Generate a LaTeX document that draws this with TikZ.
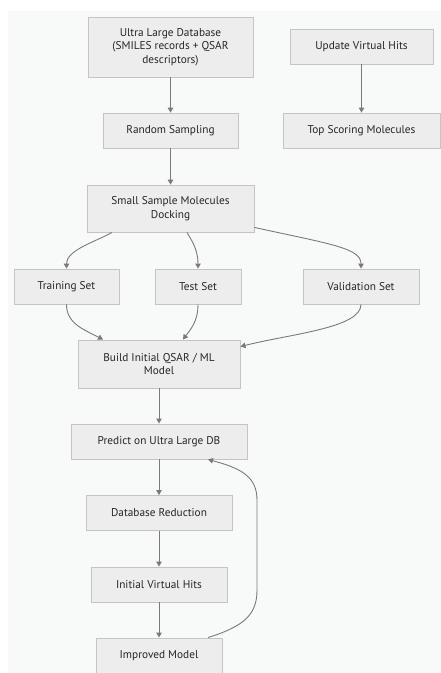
\documentclass[tikz,border=0pt]{standalone}
\usepackage{fontspec}
\setmainfont{PT Sans}
\usetikzlibrary{arrows.meta}
\definecolor{panelbg}{HTML}{F8F9F9}
\definecolor{boxfill}{HTML}{EDEDED}
\definecolor{boxline}{HTML}{C4C4C4}
\definecolor{edgecol}{HTML}{7A7A7A}
\definecolor{txtcol}{HTML}{262626}
\begin{document}
\begin{tikzpicture}[x=1pt,y=-1pt,
  box/.style={draw=boxline, fill=boxfill, line width=0.9pt, inner sep=0pt,
    text=txtcol, align=center, font=\fontsize{11.3}{13.5}\selectfont},
  flow/.style={draw=edgecol, line width=0.9pt, -{Triangle[length=5pt,width=5.5pt]}}]
\useasboundingbox (0,0) rectangle (441,673);
\fill[panelbg] (8,11) rectangle (441,673);
% nodes
\node[box, minimum width=165pt, minimum height=60pt] (ultra) at (170.5,47) {Ultra Large Database\\(SMILES records + QSAR\\descriptors)};
\node[box, minimum width=135pt, minimum height=35pt] (random) at (170.5,130.5) {Random Sampling};
\node[box, minimum width=167pt, minimum height=47pt] (small) at (170.5,208.5) {Small Sample Molecules\\Docking};
\node[box, minimum width=143pt, minimum height=35pt] (update) at (361.5,46.5) {Update Virtual Hits};
\node[box, minimum width=157pt, minimum height=35pt] (top) at (361.5,130.5) {Top Scoring Molecules};
\node[box, minimum width=105pt, minimum height=35pt] (train) at (66.5,286.5) {Training Set};
\node[box, minimum width=86pt, minimum height=35pt] (test) at (198,286.5) {Test Set};
\node[box, minimum width=116pt, minimum height=35pt] (valid) at (361,286.5) {Validation Set};
\node[box, minimum width=162pt, minimum height=48pt] (build) at (159,364) {Build Initial QSAR / ML\\Model};
\node[box, minimum width=176pt, minimum height=35pt] (predict) at (159,441.5) {Predict on Ultra Large DB};
\node[box, minimum width=146pt, minimum height=35pt] (dbred) at (159,513) {Database Reduction};
\node[box, minimum width=136pt, minimum height=35pt] (ivh) at (159,584.5) {Initial Virtual Hits};
\node[box, minimum width=126pt, minimum height=35pt] (improved) at (159,655.5) {Improved Model};
% straight edges
\draw[flow] (ultra) -- (random);
\draw[flow] (random) -- (small);
\draw[flow] (update) -- (top);
\draw[flow] (build) -- (predict);
\draw[flow] (predict) -- (dbred);
\draw[flow] (dbred) -- (ivh);
\draw[flow] (ivh) -- (improved);
% curved edges
\draw[flow] ([xshift=-58.5pt]small.south) .. controls (95,242) and (66.5,250) .. (train.north);
\draw[flow] ([xshift=16.5pt]small.south) .. controls (194,244) and (198,252) .. (test.north);
\draw[flow] ([yshift=5pt]small.south east) .. controls (330,244) and (361,248) .. (valid.north);
\draw[flow] (train.south) .. controls (66.5,324) and (85,330) .. ([xshift=-56pt]build.north);
\draw[flow] (test.south) .. controls (198,322) and (190,330) .. ([xshift=24pt]build.north);
\draw[flow] (valid.south) .. controls (361,328) and (290,334) .. ([yshift=-7pt]build.north east);
\draw[flow] ([xshift=49pt]improved.north) .. controls (245,626) and (257,614) .. (257,590)
  -- (257,500) .. controls (257,476) and (240,468) .. ([xshift=49pt]predict.south);
\end{tikzpicture}
\end{document}
